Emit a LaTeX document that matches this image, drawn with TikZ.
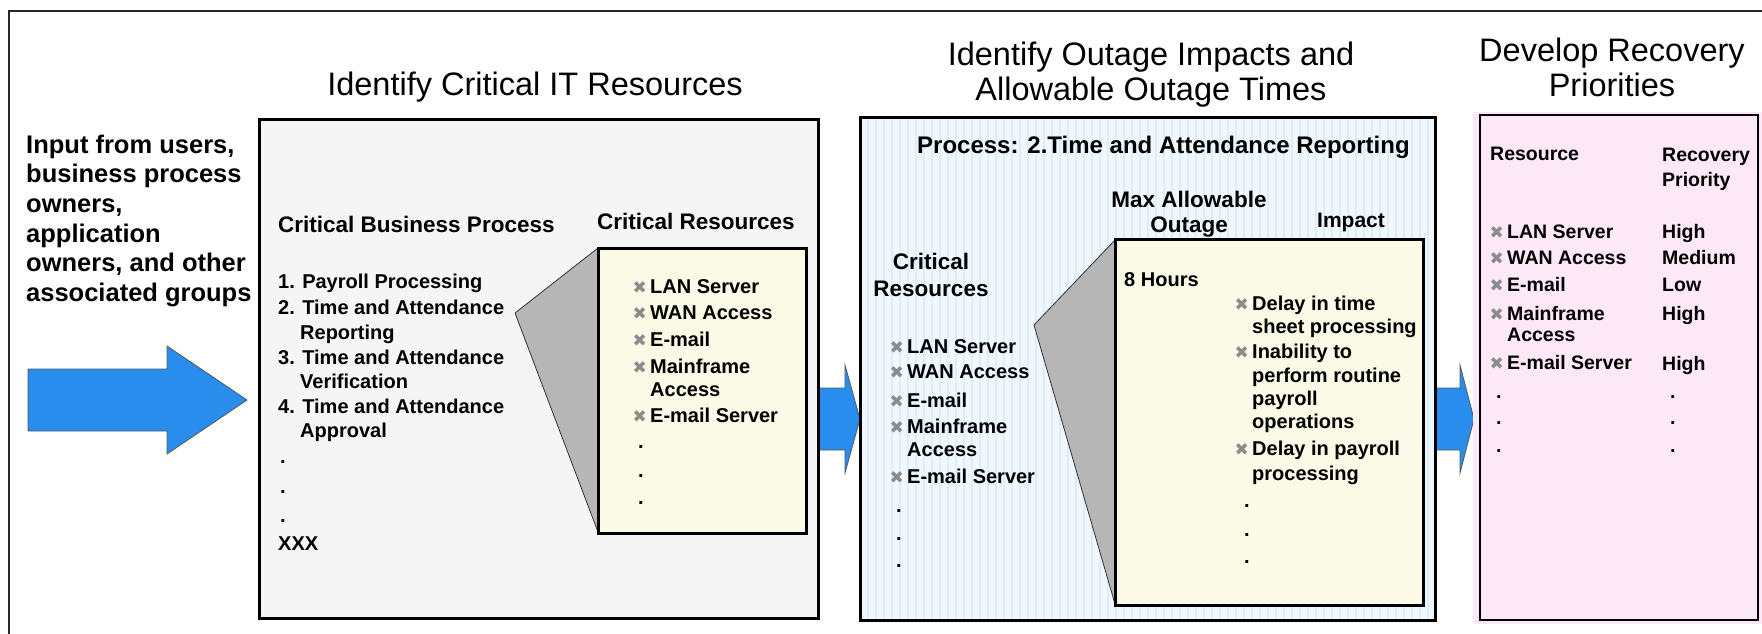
\documentclass[tikz,border=0pt]{standalone}
\usepackage{fontspec}
\setmainfont{Liberation Sans}
\newfontfamily\symfont{DejaVu Sans}
\definecolor{arrowblue}{RGB}{41,141,238}
\definecolor{boxgray}{RGB}{245,245,245}
\definecolor{trapgray}{RGB}{182,182,182}
\definecolor{cream}{RGB}{250,250,230}
\definecolor{lightblue}{RGB}{240,248,254}
\definecolor{stripeblue}{RGB}{222,237,251}
\definecolor{pinkfill}{RGB}{252,232,246}
\tikzset{
  ttl/.style={inner sep=0pt, anchor=base, font=\fontsize{32.5}{39}\selectfont},
  hd/.style={inner sep=0pt, anchor=base west, font=\fontsize{22.5}{27}\selectfont\bfseries},
  hdc/.style={inner sep=0pt, anchor=base, font=\fontsize{22.5}{27}\selectfont\bfseries},
  inp/.style={inner sep=0pt, anchor=base west, font=\fontsize{25.5}{30}\selectfont\bfseries},
  tx/.style={inner sep=0pt, anchor=base west, font=\fontsize{20}{24}\selectfont\bfseries},
  txs/.style={inner sep=0pt, anchor=base west, font=\fontsize{19.5}{24}\selectfont\bfseries},
  bl/.style={inner sep=0pt, anchor=base east, text=black!45, font=\fontsize{17}{18}\selectfont\symfont},
  panel/.style={draw=black, line width=3pt},
  bigarrow/.style={fill=arrowblue, draw=black!65, line width=0.8pt, line join=miter},
}
\begin{document}
\begin{tikzpicture}[x=1pt,y=-1pt]
\useasboundingbox (0,0) rectangle (1762,633);
\fill[white] (0,0) rectangle (1762,633);
\draw[line width=1.6pt, black!85] (9,11) rectangle (1790,660);

% block arrows
\filldraw[bigarrow] (28,369) -- (167,369) -- (167,346) -- (247,400) -- (167,454) -- (167,431) -- (28,431) -- cycle;
\filldraw[bigarrow] (810,388) -- (845,388) -- (845,365) -- (860,419) -- (845,473) -- (845,450) -- (810,450) -- cycle;
\filldraw[bigarrow] (1428,388) -- (1460,388) -- (1460,365) -- (1474,419) -- (1460,473) -- (1460,450) -- (1428,450) -- cycle;

% input text
\node[inp] (in1) at (26,153) {Input from users,};
\node[inp] (in2) at (26,182.7) {business process};
\node[inp] (in3) at (26,212.4) {owners,};
\node[inp] (in4) at (26,242.1) {application};
\node[inp] (in5) at (26,271.8) {owners, and other};
\node[inp] (in6) at (26,301.5) {associated groups};

% ---------- panel 1
\node[ttl] (t1) at (535,95) {Identify Critical IT Resources};
\draw[panel, fill=boxgray] (259,119) rectangle (818,618);
\node[hd] (cbp) at (278,232) {Critical Business Process};
\node[hd] (cr1) at (597,229) {Critical Resources};
\node[tx] (p1) at (278,288) {1. Payroll Processing};
\node[tx] (p2) at (278,314) {2. Time and Attendance};
\node[tx] (p2b) at (300,339) {Reporting};
\node[tx] (p3) at (278,364) {3. Time and Attendance};
\node[tx] (p3b) at (300,388) {Verification};
\node[tx] (p4) at (278,413) {4. Time and Attendance};
\node[tx] (p4b) at (300,437) {Approval};
\node[tx] (pd1) at (280,463) {.};
\node[tx] (pd2) at (280,493) {.};
\node[tx] (pd3) at (280,522) {.};
\node[tx] (pxx) at (278,550) {XXX};

\filldraw[fill=trapgray, draw=black!80, line width=0.8pt] (598,248) -- (515,313) -- (598,532) -- cycle;
\draw[panel, fill=cream] (598,248) rectangle (806,533);
\node[bl] (r1b) at (647,293) {✖}; \node[tx] (r1) at (650,293) {LAN Server};
\node[bl] (r2b) at (647,319) {✖}; \node[tx] (r2) at (650,319) {WAN Access};
\node[bl] (r3b) at (647,346) {✖}; \node[tx] (r3) at (650,346) {E-mail};
\node[bl] (r4b) at (647,373) {✖}; \node[tx] (r4) at (650,373) {Mainframe};
\node[tx] (r4c) at (650,396) {Access};
\node[bl] (r5b) at (647,422) {✖}; \node[tx] (r5) at (650,422) {E-mail Server};
\node[tx] (rd1) at (638,448) {.};
\node[tx] (rd2) at (638,477) {.};
\node[tx] (rd3) at (638,504) {.};

% ---------- panel 2
\node[ttl] (t2a) at (1151,65) {Identify Outage Impacts and};
\node[ttl] (t2b) at (1151,100) {Allowable Outage Times};
\draw[panel, fill=lightblue] (860,117) rectangle (1435,620);
\foreach \sx in {868,876,...,1428} \draw[stripeblue, line width=2pt] (\sx,119) -- (\sx,618);
\draw[panel] (860,117) rectangle (1435,620);
\node[inp, font=\fontsize{24}{28}\selectfont\bfseries] (proc) at (917,153) {Process: 2.Time and Attendance Reporting};
\node[hdc] (mx1) at (1189,207) {Max Allowable};
\node[hdc] (mx2) at (1189,232) {Outage};
\node[hdc, font=\fontsize{21}{25}\selectfont\bfseries] (imp) at (1351,227) {Impact};
\node[hdc] (cr2a) at (931,269) {Critical};
\node[hdc] (cr2b) at (931,296) {Resources};

\node[bl] (s1b) at (904,353) {✖}; \node[tx] (s1) at (907,353) {LAN Server};
\node[bl] (s2b) at (904,378) {✖}; \node[tx] (s2) at (907,378) {WAN Access};
\node[bl] (s3b) at (904,407) {✖}; \node[tx] (s3) at (907,407) {E-mail};
\node[bl] (s4b) at (904,433) {✖}; \node[tx] (s4) at (907,433) {Mainframe};
\node[tx] (s4c) at (907,456) {Access};
\node[bl] (s5b) at (904,483) {✖}; \node[tx] (s5) at (907,483) {E-mail Server};
\node[tx] (sd1) at (896,512) {.};
\node[tx] (sd2) at (896,540) {.};
\node[tx] (sd3) at (896,567) {.};

\filldraw[fill=trapgray, draw=black!80, line width=0.8pt] (1115,240) -- (1034,325) -- (1115,604) -- cycle;
\draw[panel, fill=cream] (1115,239) rectangle (1423,605);
\node[tx] (hrs) at (1124,286) {8 Hours};
\node[bl] (i1b) at (1249,310) {✖}; \node[tx] (i1) at (1252,310) {Delay in time};
\node[tx] (i1c) at (1252,333) {sheet processing};
\node[bl] (i2b) at (1249,358) {✖}; \node[tx] (i2) at (1252,358) {Inability to};
\node[tx] (i2c) at (1252,382) {perform routine};
\node[tx] (i2d) at (1252,405) {payroll};
\node[tx] (i2e) at (1252,428) {operations};
\node[bl] (i3b) at (1249,455) {✖}; \node[tx] (i3) at (1252,455) {Delay in payroll};
\node[tx] (i3c) at (1252,480) {processing};
\node[tx] (id1) at (1244,507) {.};
\node[tx] (id2) at (1244,536) {.};
\node[tx] (id3) at (1244,563) {.};

% ---------- panel 3
\node[ttl] (t3a) at (1612,61) {Develop Recovery};
\node[ttl] (t3b) at (1612,96) {Priorities};
\fill[pinkfill] (1473,112) rectangle (1762,624);
\draw[line width=2.6pt, fill=pinkfill] (1480,115) rectangle (1758,620);
\node[txs] (res) at (1490,160) {Resource};
\node[txs] (rec1) at (1662,161) {Recovery};
\node[txs] (rec2) at (1662,186) {Priority};
\node[bl] (u1b) at (1504,238) {✖}; \node[txs] (u1) at (1507,238) {LAN Server};
\node[bl] (u2b) at (1504,264) {✖}; \node[txs] (u2) at (1507,264) {WAN Access};
\node[bl] (u3b) at (1504,291) {✖}; \node[txs] (u3) at (1507,291) {E-mail};
\node[bl] (u4b) at (1504,320) {✖}; \node[txs] (u4) at (1507,320) {Mainframe};
\node[txs] (u4c) at (1507,341) {Access};
\node[bl] (u5b) at (1504,369) {✖}; \node[txs] (u5) at (1507,369) {E-mail Server};
\node[txs] (v1) at (1662,238) {High};
\node[txs] (v2) at (1662,264) {Medium};
\node[txs] (v3) at (1662,291) {Low};
\node[txs] (v4) at (1662,320) {High};
\node[txs] (v5) at (1662,370) {High};
\node[txs] (ud1) at (1496,398) {.};
\node[txs] (ud2) at (1496,424) {.};
\node[txs] (ud3) at (1496,452) {.};
\node[txs] (vd1) at (1670,398) {.};
\node[txs] (vd2) at (1670,424) {.};
\node[txs] (vd3) at (1670,452) {.};
\end{tikzpicture}
\end{document}
